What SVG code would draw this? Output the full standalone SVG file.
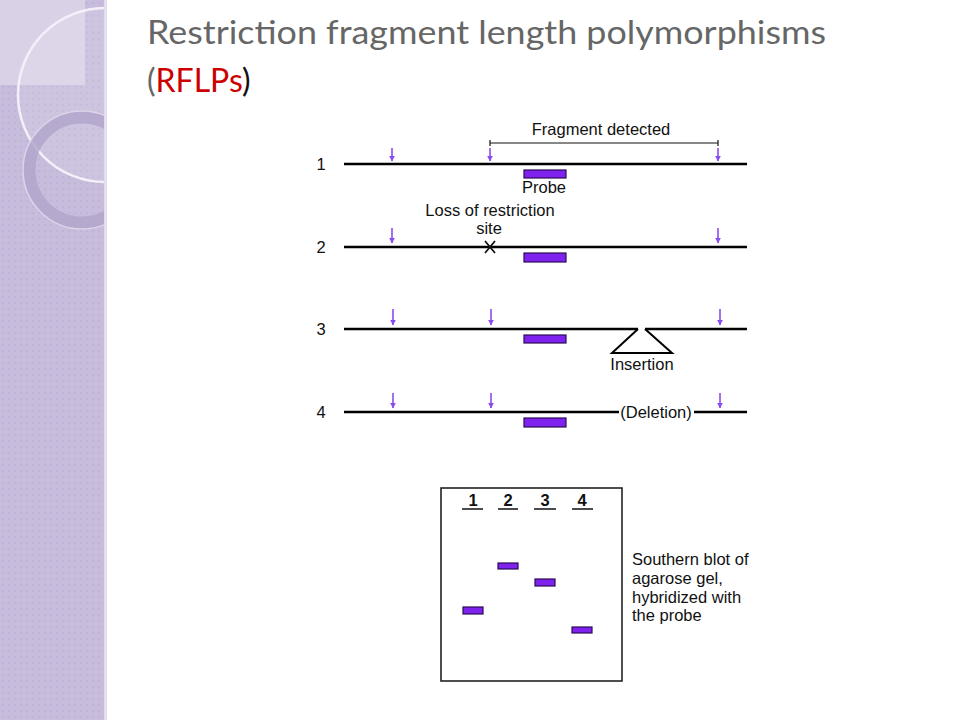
<svg xmlns="http://www.w3.org/2000/svg" width="960" height="720" viewBox="0 0 960 720">
<defs>
<style>
.lbl{font-family:"Liberation Sans",Arial,sans-serif;font-size:16.5px;fill:#111}
.dna{stroke:#000;stroke-width:2.4;fill:none}
.cut{stroke:#8a4cf0;stroke-width:1.6;fill:none}
.probe{fill:#7f22f0;stroke:#2a0a55;stroke-width:1.2}
.title{font-family:Lato,"Open Sans",sans-serif;font-size:32px;fill:#666}
</style>
<marker id="ah" viewBox="0 0 10 10" refX="9" refY="5" markerWidth="6" markerHeight="6" orient="auto" markerUnits="userSpaceOnUse">
<path d="M0,0 L10,5 L0,10 Z" fill="#8a4cf0"/>
</marker>
<pattern id="dots" width="6" height="6" patternUnits="userSpaceOnUse">
<circle cx="3" cy="3" r="0.9" fill="#bcb0d2"/>
</pattern>
<clipPath id="pclip"><rect x="0" y="0" width="105" height="720"/></clipPath>
</defs>
<rect width="960" height="720" fill="#fff"/>
<!-- left decorative panel -->
<g id="panel" clip-path="url(#pclip)">
<rect x="0" y="0" width="105" height="720" fill="#c7bcdb"/>
<rect x="0" y="0" width="105" height="720" fill="url(#dots)"/>
<rect x="0" y="0" width="85" height="85" fill="#d9d1e6"/>
<circle cx="105" cy="95" r="87" fill="#ffffff" fill-opacity="0.12" stroke="#f4f0fa" stroke-width="2.5"/>
<circle cx="82" cy="170" r="53" fill="none" stroke="#b2a4ca" stroke-width="13" stroke-opacity="0.8"/>
<circle cx="82" cy="170" r="59" fill="none" stroke="#ddd5ea" stroke-width="1.5"/>
</g>
<rect x="104" y="0" width="3" height="720" fill="#e4deee"/>
<!-- title -->
<g id="title">
<text class="title" x="147" y="44" textLength="679" lengthAdjust="spacingAndGlyphs">Restriction fragment length polymorphisms</text>
<text class="title" x="147" y="92"><tspan>(</tspan><tspan fill="#cc0000">RFLPs</tspan><tspan fill="#111">)</tspan></text>
</g>
<!-- row 1 -->
<g id="row1">
<text class="lbl" x="321" y="170" text-anchor="middle">1</text>
<line class="dna" x1="344" y1="164" x2="747" y2="164"/>
<text class="lbl" x="601" y="135" text-anchor="middle">Fragment detected</text>
<path d="M490,143 H718 M490,140 V146 M718,140 V146" stroke="#111" stroke-width="1.2" fill="none"/>
<rect class="probe" x="524" y="170" width="42" height="8"/>
<text class="lbl" x="544" y="193" text-anchor="middle">Probe</text>
</g>
<!-- row 2 -->
<g id="row2">
<text class="lbl" x="321" y="253" text-anchor="middle">2</text>
<line class="dna" x1="344" y1="247" x2="747" y2="247"/>
<text class="lbl" x="490" y="216" text-anchor="middle">Loss of restriction</text>
<text class="lbl" x="489" y="234" text-anchor="middle">site</text>
<path d="M485,241 L495,253 M495,241 L485,253" stroke="#111" stroke-width="1.8"/>
<rect class="probe" x="524" y="253" width="42" height="9"/>
</g>
<!-- row 3 -->
<g id="row3">
<text class="lbl" x="321" y="335" text-anchor="middle">3</text>
<path d="M638,329 L612,353 H672 L645,329" stroke="#000" stroke-width="2" fill="none"/>
<line class="dna" x1="344" y1="329" x2="638" y2="329"/>
<line class="dna" x1="645" y1="329" x2="747" y2="329"/>
<rect class="probe" x="524" y="335" width="42" height="8"/>
<text class="lbl" x="642" y="370" text-anchor="middle">Insertion</text>
</g>
<!-- row 4 -->
<g id="row4">
<text class="lbl" x="321" y="418" text-anchor="middle">4</text>
<line class="dna" x1="344" y1="412" x2="619" y2="412"/>
<line class="dna" x1="694" y1="412" x2="747" y2="412"/>
<text class="lbl" x="656" y="418" text-anchor="middle">(Deletion)</text>
<rect class="probe" x="524" y="418" width="42" height="9"/>
</g>
<!-- cut-site arrows -->
<g id="connectors">
<line class="cut" x1="392" y1="148" x2="392" y2="161" marker-end="url(#ah)"/>
<line class="cut" x1="490" y1="148" x2="490" y2="161" marker-end="url(#ah)"/>
<line class="cut" x1="718" y1="148" x2="718" y2="161" marker-end="url(#ah)"/>
<line class="cut" x1="392" y1="228" x2="392" y2="243" marker-end="url(#ah)"/>
<line class="cut" x1="718" y1="228" x2="718" y2="243" marker-end="url(#ah)"/>
<line class="cut" x1="393" y1="309" x2="393" y2="325" marker-end="url(#ah)"/>
<line class="cut" x1="491" y1="309" x2="491" y2="325" marker-end="url(#ah)"/>
<line class="cut" x1="720" y1="309" x2="720" y2="325" marker-end="url(#ah)"/>
<line class="cut" x1="393" y1="393" x2="393" y2="408" marker-end="url(#ah)"/>
<line class="cut" x1="491" y1="393" x2="491" y2="408" marker-end="url(#ah)"/>
<line class="cut" x1="720" y1="393" x2="720" y2="408" marker-end="url(#ah)"/>
</g>
<!-- gel -->
<g id="gel">
<rect x="441" y="488" width="181" height="193" fill="#fff" stroke="#222" stroke-width="1.6"/>
<text class="lbl" x="473" y="506" text-anchor="middle" font-weight="bold">1</text>
<text class="lbl" x="508" y="506" text-anchor="middle" font-weight="bold">2</text>
<text class="lbl" x="545" y="506" text-anchor="middle" font-weight="bold">3</text>
<text class="lbl" x="582" y="506" text-anchor="middle" font-weight="bold">4</text>
<path d="M462,509 H483 M498,509 H518 M534,509 H556 M572,509 H593" stroke="#111" stroke-width="1.5"/>
<rect class="probe" x="463" y="607" width="20" height="7"/>
<rect class="probe" x="498" y="563" width="20" height="6"/>
<rect class="probe" x="535" y="579" width="20" height="7"/>
<rect class="probe" x="572" y="627" width="20" height="6"/>
</g>
<g id="caption">
<text class="lbl" x="632" y="565">Southern blot of</text>
<text class="lbl" x="632" y="584">agarose gel,</text>
<text class="lbl" x="632" y="603">hybridized with</text>
<text class="lbl" x="632" y="621">the probe</text>
</g>
</svg>
